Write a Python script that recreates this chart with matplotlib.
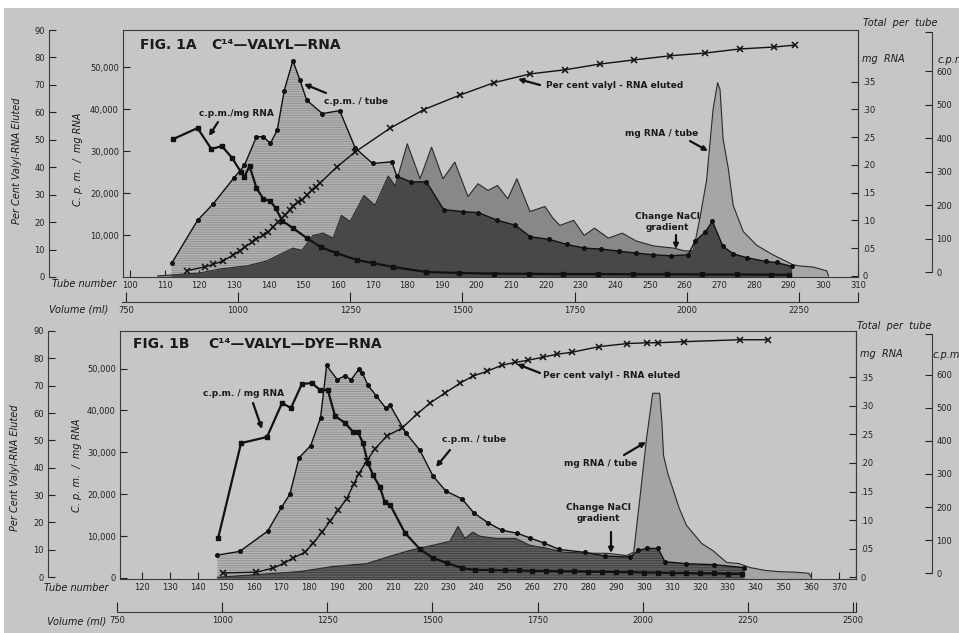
"""
Fig. 1A / 1B elution profiles: C14-valyl-RNA and C14-valyl-dye-RNA
"""
import matplotlib
matplotlib.use('Agg')

import numpy as np
import matplotlib.pyplot as plt
from matplotlib.patches import Rectangle

W, H = 959, 633
PAPER = '#c6c6c6'

# ---------------- FIG. 1A  C14-VALYL-RNA ----------------
a_cpm_tube_t = [112, 119.5, 124, 130, 133, 136.5, 138.5, 140.5, 142.5, 144.5, 147, 149, 151,
                155.5, 160.5, 165, 170, 175.5, 177, 181, 185.5, 190.5, 196, 200.5, 206, 211,
                215.5, 221, 226, 231, 236, 241, 246, 251, 256, 261, 263, 266, 268, 271, 274,
                278, 283.5, 286.5, 291]
a_cpm_tube = [26, 155, 204, 282, 319, 405, 405, 385, 425, 543, 632, 575, 514,
              474, 483, 371, 325, 330, 287, 270, 270, 187, 181, 178, 155, 141,
              106, 98, 83, 72, 69, 63, 57, 52, 49, 52, 92, 121, 152, 78, 55,
              43, 32, 29, 17]

a_mg_t = [108, 120, 126, 133.7, 139.5, 144, 147, 149.6, 152.8, 155.7, 158.6, 161, 163.5,
          165.8, 167.5, 170.7, 174.5, 176.5, 180, 183.7, 187, 190.3, 193.7, 197.5, 200.4,
          203.3, 206, 209, 211.6, 215.4, 219.7, 222, 224, 228, 231, 234, 238, 242, 246,
          251, 257, 260, 262.5, 264.4, 266.3, 268.2, 269.5, 270.2, 271.1, 272.6, 274,
          276.9, 280.8, 285.6, 291.3, 293, 297, 301, 301.5]
a_mg = [0, 0.005, 0.0125, 0.018, 0.027, 0.041, 0.050, 0.046, 0.073, 0.077, 0.068, 0.109, 0.098,
        0.125, 0.145, 0.127, 0.180, 0.162, 0.238, 0.175, 0.232, 0.175, 0.205, 0.143, 0.166,
        0.154, 0.163, 0.139, 0.175, 0.116, 0.125, 0.104, 0.091, 0.100, 0.073, 0.086, 0.068,
        0.077, 0.063, 0.054, 0.050, 0.045, 0.045, 0.104, 0.171, 0.300, 0.348, 0.336, 0.246,
        0.193, 0.127, 0.080, 0.055, 0.0375, 0.020, 0.018, 0.016, 0.009, 0]

a_cpm_mg_t = [112.5, 119.5, 123.5, 126.5, 129.5, 132, 133, 134.5, 136.5, 138.5, 140.5, 142,
              144, 147, 151, 155, 159.5, 165.5, 170, 176, 185.5, 195, 205, 215, 225, 235,
              245, 255, 265, 275, 285, 290]
a_cpm_mg = [32850, 35460, 30460, 31180, 28320, 25000, 23800, 26420, 21180, 18570, 18090, 16420,
            13330, 11660, 9280, 7140, 5710, 4050, 3330, 2380, 1190, 950, 800, 750, 700, 700,
            650, 650, 600, 600, 550, 500]

a_pct_t = [116.4, 121.6, 124, 126.9, 129.8, 131.7, 133.2, 135.1, 136.5, 138.5, 139.9, 141.3,
           142.8, 144.7, 146.1, 147.1, 148.5, 149.5, 151, 152.4, 153.6, 154.8, 159.6, 164.9,
           175, 184.8, 195.2, 205, 215.4, 225.5, 235.6, 245.4, 255.8, 265.9, 276, 285.8, 291.8]
a_pct = [2.3, 3.7, 4.6, 5.9, 8.0, 9.5, 11.0, 12.6, 13.8, 15.2, 16.4, 18.3,
         20.1, 22.5, 24.3, 25.8, 27.3, 27.9, 29.8, 31.6, 32.8, 34.2, 40.0, 45.5,
         54.2, 61.0, 66.3, 70.8, 74.0, 75.5, 77.6, 79.1, 80.6, 81.6, 83.1, 83.8, 84.5]

# ---------------- FIG. 1B  C14-VALYL-DYE-RNA ----------------
b_cpm_tube_t = [147, 155, 165, 170, 173, 176.3, 180.5, 184, 186.2, 190, 192.8, 195, 197.8, 199,
                201, 204, 207.4, 209, 214.6, 219.6, 224.3, 229, 234.7, 239, 244, 249, 254.5,
                259, 264, 269.6, 279, 286, 295, 298, 301, 305, 307.5, 315, 325, 336]
b_cpm_tube = [55, 66, 127, 199, 239, 349, 386, 470, 628, 585, 597, 585, 617, 605,
              568, 536, 499, 507, 424, 372, 294, 248, 225, 182, 153, 130, 121,
              107, 92, 72, 63, 52, 49, 69, 75, 75, 35, 29, 26, 17]

b_mg_t = [147, 176.6, 188.5, 200.6, 209, 216, 224.3, 230.4, 233.3, 235.8, 238.6, 241, 247, 254,
          259, 265, 271, 279.8, 286.7, 293.8, 296.3, 298.5, 300.9, 303.1, 305.6, 306.4, 307,
          308.5, 312.6, 315.2, 320.7, 324.6, 329.6, 334, 338, 343.5, 348, 354, 359, 360]
b_mg = [0, 0.010, 0.019, 0.024, 0.037, 0.047, 0.056, 0.063, 0.089, 0.068, 0.079, 0.072, 0.068,
        0.068, 0.056, 0.051, 0.044, 0.042, 0.042, 0.038, 0.044, 0.138, 0.243, 0.322, 0.322,
        0.271, 0.213, 0.182, 0.121, 0.091, 0.059, 0.047, 0.026, 0.024, 0.017, 0.012, 0.010,
        0.009, 0.007, 0]

b_cpm_mg_t = [147.3, 155.5, 164.8, 170.2, 173.4, 177.3, 180.9, 183.8, 186.6, 189.2, 192.8, 195.7,
              197.4, 199.2, 201, 202.8, 205.3, 207, 209, 214.3, 219.6, 224.3, 229.3, 234.7,
              239.3, 245, 250, 255, 260, 265, 270, 275, 280, 285, 290, 295, 300, 305, 310, 315,
              320, 325, 330, 335]
b_cpm_mg = [9550, 32200, 33650, 41770, 40580, 46300, 46550, 44880, 44880, 38670, 37000, 34850,
            34850, 32220, 27450, 24590, 21720, 18140, 17430, 10740, 6920, 4770, 3580, 2390,
            1910, 1900, 1800, 1800, 1700, 1700, 1600, 1600, 1500, 1500, 1400, 1400, 1300, 1300,
            1200, 1200, 1100, 1100, 1000, 1000]

b_pct_t = [149, 161, 167, 171, 174, 178.4, 181.4, 184.5, 187.4, 190.3, 193.4, 196, 197.7, 200.6,
           203.5, 207.8, 213.2, 218.6, 223.2, 228.6, 234, 238.6, 243.8, 249, 253.7, 258.4,
           263.7, 268.7, 274, 284, 294, 301, 305, 314.3, 334.3, 344.4]
b_pct = [1.5, 1.8, 3.3, 5.1, 6.9, 9.1, 12.4, 16.4, 20.4, 24.4, 28.7, 34.2, 37.8, 42.5,
         46.9, 51.6, 54.5, 59.6, 63.6, 67.3, 70.9, 73.5, 75.3, 77.5, 78.5, 79.3,
         80.4, 81.5, 82.2, 84.3, 85.4, 85.7, 85.7, 86.1, 86.8, 86.8]

# axis ticks / labels
cpm_mg_ticks_a = [10000, 20000, 30000, 40000, 50000]
cpm_mg_ticks_b = [0, 10000, 20000, 30000, 40000, 50000]
pct_ticks = [0, 10, 20, 30, 40, 50, 60, 70, 80, 90]
mg_ticks = [0, 0.05, 0.10, 0.15, 0.20, 0.25, 0.30, 0.35]
mg_labels = ['0', '.05', '.10', '.15', '.20', '.25', '.30', '.35']
cpm_ticks = [0, 100, 200, 300, 400, 500, 600]
vol_ticks_a = [750, 1000, 1250, 1500, 1750, 2000, 2250]
vol_ticks_b = [750, 1000, 1250, 1500, 1750, 2000, 2250, 2500]

plt.rcParams['font.family'] = ['DejaVu Sans']
plt.rcParams['hatch.linewidth'] = 0.6


def fx(px):
    return px / W


def fy(py):
    return 1 - py / H


fig = plt.figure(figsize=(W / 100, H / 100), dpi=100, facecolor='white')
fig.patches.append(Rectangle((fx(4), 0), 1, fy(8), transform=fig.transFigure,
                             facecolor=PAPER, edgecolor='none', zorder=-10))


def arrow(tail, head):
    fig.add_artist(matplotlib.patches.FancyArrowPatch(
        (fx(tail[0]), fy(tail[1])), (fx(head[0]), fy(head[1])),
        transform=fig.transFigure, arrowstyle='-|>', mutation_scale=7,
        lw=1.6, color='#111111', shrinkA=0, shrinkB=0))


def panel(lay, cpm_t, cpm_v, mg_t, mg_v, cmg_t, cmg_v, pct_t, pct_v, cmg_ticks, vol_ticks):
    l, t, r, b = lay['box']
    w = r - l
    ax = fig.add_axes([fx(l), fy(b), fx(w), (b - t) / H])
    ax.patch.set_visible(False)
    axP = ax.twinx()
    axM = ax.twinx()
    axC = ax.twinx()

    # fills: cpm / tube (hatched), mg RNA / tube, and their overlap (dark)
    cbase = lay['cpm_lim'][0]
    mbase = lay['mg_lim'][0]
    pc = ax.fill_between(cpm_t, cpm_v, cbase, transform=axC.transData, facecolor=lay['light'],
                         edgecolor='#8e8e8e', hatch='-------', lw=0, zorder=1)
    mt = np.asarray(mg_t)
    s, c1, c2 = lay['mg_split']
    ax.fill_between(mt, mg_v, mbase, where=mt <= s, transform=axM.transData,
                    facecolor=c1, lw=0, zorder=2)
    ax.fill_between(mt, mg_v, mbase, where=mt >= s, transform=axM.transData,
                    facecolor=c2, lw=0, zorder=2)
    ov = ax.fill_between(mt, mg_v, mbase, transform=axM.transData, facecolor=lay['dark'],
                         edgecolor='#3a3a3a', hatch=lay['dark_hatch'], lw=0, zorder=3)
    ov.set_clip_path(pc.get_paths()[0], pc.get_transform())

    ax.plot(mg_t, mg_v, transform=axM.transData, color='#2a2a2a', lw=0.8, zorder=4)
    ax.plot(cpm_t, cpm_v, transform=axC.transData, color='#111111', lw=1.0,
            marker='o', ms=2.6, zorder=5)
    ax.plot(cmg_t, cmg_v, color='#111111', lw=1.6, marker='s', ms=3.0, zorder=6)
    ax.plot(pct_t, pct_v, transform=axP.transData, color='#111111', lw=1.0,
            marker='x', ms=4.5, mew=1.1, zorder=7)

    # host: tube number + c.p.m./mg RNA
    ax.set_xlim(lay['tube_lim'])
    ax.set_ylim(lay['cmg_lim'])
    ax.set_xticks(lay['tube_ticks'])
    ax.set_yticks(cmg_ticks, ['0' if v == 0 else f'{v:,}' for v in cmg_ticks])
    ax.tick_params(direction='in', length=5, width=0.8, labelsize=6, pad=3, colors='#222222')
    for sp in ax.spines.values():
        sp.set_color('#3a3a3a')
        sp.set_linewidth(0.8)

    for a in (axP, axM, axC):
        for sp in a.spines.values():
            sp.set_visible(False)
            sp.set_color('#3a3a3a')
            sp.set_linewidth(0.8)
        a.tick_params(direction='in', length=5, width=0.8, labelsize=6, pad=3, colors='#222222')

    # per cent eluted, far left
    axP.set_ylim(lay['pct_lim'])
    axP.yaxis.tick_left()
    axP.spines['left'].set_visible(True)
    axP.spines['left'].set_position(('axes', (lay['pct_x'] - l) / w))
    axP.spines['left'].set_bounds(0, 90)
    axP.set_yticks(pct_ticks)

    # mg RNA, box right
    axM.set_ylim(lay['mg_lim'])
    axM.spines['right'].set_visible(True)
    axM.set_yticks(mg_ticks, mg_labels)

    # c.p.m. total, far right
    axC.set_ylim(lay['cpm_lim'])
    axC.spines['right'].set_visible(True)
    axC.spines['right'].set_position(('axes', (lay['cpm_x'] - l) / w))
    axC.spines['right'].set_bounds(0, lay['cpm_top'])
    axC.set_yticks(cpm_ticks + [lay['cpm_top']], [str(v) for v in cpm_ticks] + [''])

    # volume scale below
    vx0, vx1, vy = lay['vol_line']
    av = fig.add_axes([fx(vx0), fy(vy), fx(vx1 - vx0), 0.0001])
    av.patch.set_visible(False)
    av.set_xlim(lay['vol_lim'])
    for k in ('left', 'right', 'top'):
        av.spines[k].set_visible(False)
    av.spines['bottom'].set_color('#3a3a3a')
    av.spines['bottom'].set_linewidth(0.8)
    av.set_yticks([])
    av.set_xticks(vol_ticks + [lay['vol_lim'][1]], [str(v) for v in vol_ticks] + [''])
    av.tick_params(axis='x', direction='in', length=7, width=0.8, labelsize=6, pad=3,
                   colors='#222222')

    # texts
    it = dict(style='italic', size=7, color='#1a1a1a', va='center')
    fig.text(fx(lay['tube_txt'][0]), fy(lay['tube_txt'][1]), 'Tube number', ha='right', **it)
    fig.text(fx(lay['vol_txt'][0]), fy(lay['vol_txt'][1]), 'Volume (ml)', ha='right', **it)
    fig.text(fx(lay['pct_txt'][0]), fy(lay['pct_txt'][1]), 'Per Cent Valyl-RNA Eluted',
             rotation=90, ha='center', **it)
    fig.text(fx(lay['cmg_txt'][0]), fy(lay['cmg_txt'][1]), 'C. p. m.  /  mg RNA',
             rotation=90, ha='center', **it)
    fig.text(fx(lay['tot_txt'][0]), fy(lay['tot_txt'][1]), 'Total  per  tube', ha='left', **it)
    fig.text(fx(lay['mgr_txt'][0]), fy(lay['mgr_txt'][1]), 'mg  RNA', ha='left', **it)
    fig.text(fx(lay['cpm_txt'][0]), fy(lay['cpm_txt'][1]), 'c.p.m', ha='left', **it)

    tt = dict(size=10, weight='bold', color='#1a1a1a', va='center', ha='left')
    fig.text(fx(lay['fig_txt'][0]), fy(lay['fig_txt'][1]), lay['fig_label'], **tt)
    fig.text(fx(lay['name_txt'][0]), fy(lay['name_txt'][1]), lay['name'], **tt)

    for text, pos, ha, tail, head in lay['notes']:
        fig.text(fx(pos[0]), fy(pos[1]), text, ha=ha, va='center', size=6.5, weight='bold',
                 color='#1a1a1a', linespacing=1.15)
        arrow(tail, head)


lay_a = dict(
    box=(123, 30, 858, 277), tube_lim=(98, 310), tube_ticks=list(range(100, 311, 10)),
    cmg_lim=(0, 58810), pct_lim=(0, 89.6), mg_lim=(-0.002, 0.443), cpm_lim=(-14.4, 724),
    pct_x=49, cpm_x=932, cpm_top=718,
    vol_line=(122, 858, 302), vol_lim=(741.5, 2381.5),
    light='#b2b2b2', dark='#484848', dark_hatch=None, mg_split=(262.5, '#888888', '#a6a6a6'),
    tube_txt=(116, 284), vol_txt=(108, 309), pct_txt=(17, 161), cmg_txt=(78, 159),
    tot_txt=(863, 23), mgr_txt=(862, 59), cpm_txt=(938, 60),
    fig_txt=(140, 45), name_txt=(211, 45), fig_label='FIG. 1A', name='C¹⁴—VALYL—RNA',
    notes=[
        ('c.p.m./mg RNA', (236, 114), 'center', (218, 122), (209, 136)),
        ('c.p.m. / tube', (356, 101), 'center', (326, 93), (304, 84)),
        ('Per cent valyl - RNA eluted', (546, 86), 'left', (540, 85), (518, 79)),
        ('mg RNA / tube', (662, 134), 'center', (690, 141), (708, 151)),
        ('Change NaCl\ngradient', (667, 222), 'center', (676, 235), (676, 249)),
    ],
)

lay_b = dict(
    box=(120, 331, 856, 579), tube_lim=(112.1, 376), tube_ticks=list(range(120, 371, 10)),
    cmg_lim=(-240, 58960), pct_lim=(-0.7, 89.5), mg_lim=(-0.003, 0.431), cpm_lim=(-17.3, 732),
    pct_x=48, cpm_x=932, cpm_top=723,
    vol_line=(117, 856, 612), vol_lim=(750, 2507),
    light='#b4b4b4', dark='#626262', dark_hatch='-------', mg_split=(296.3, '#9a9a9a', '#a4a4a4'),
    tube_txt=(109, 588), vol_txt=(106, 621), pct_txt=(15, 468), cmg_txt=(77, 465),
    tot_txt=(857, 326), mgr_txt=(860, 354), cpm_txt=(933, 355),
    fig_txt=(133, 344), name_txt=(208, 344), fig_label='FIG. 1B', name='C¹⁴—VALYL—DYE—RNA',
    notes=[
        ('c.p.m. / mg RNA', (244, 393), 'center', (253, 403), (262, 429)),
        ('c.p.m. / tube', (442, 440), 'left', (450, 450), (436, 467)),
        ('Per cent valyl - RNA eluted', (543, 376), 'left', (540, 373), (517, 364)),
        ('mg RNA / tube', (601, 464), 'center', (624, 455), (646, 442)),
        ('Change NaCl\ngradient', (598, 513), 'center', (611, 532), (611, 553)),
    ],
)

panel(lay_a, a_cpm_tube_t, a_cpm_tube, a_mg_t, a_mg, a_cpm_mg_t, a_cpm_mg, a_pct_t, a_pct,
      cpm_mg_ticks_a, vol_ticks_a)
panel(lay_b, b_cpm_tube_t, b_cpm_tube, b_mg_t, b_mg, b_cpm_mg_t, b_cpm_mg, b_pct_t, b_pct,
      cpm_mg_ticks_b, vol_ticks_b)

fig.savefig('out.png', dpi=100, facecolor=fig.get_facecolor())
